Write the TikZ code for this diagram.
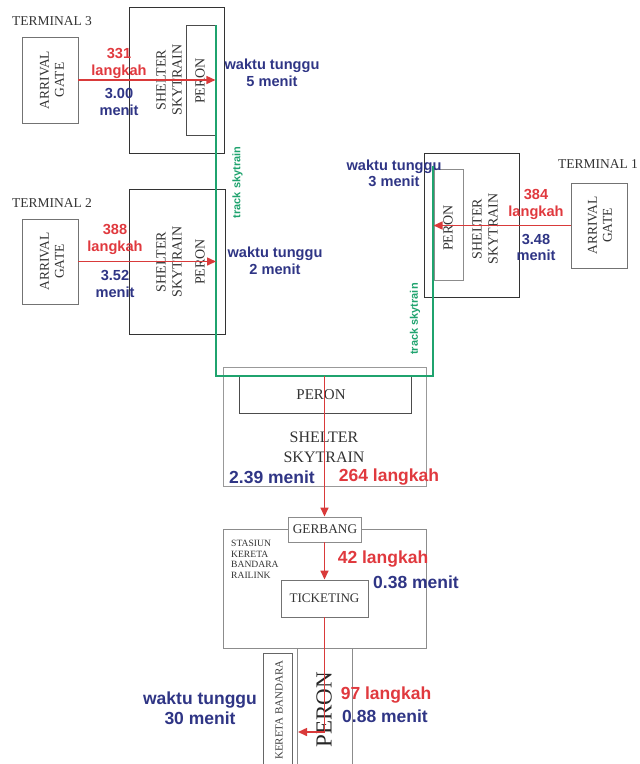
\documentclass[tikz,border=0pt]{standalone}
\usepackage{fontspec}
\setmainfont{Liberation Serif}
\setsansfont{Liberation Sans}
\usetikzlibrary{arrows.meta}
\definecolor{lred}{HTML}{E0393E}
\definecolor{lnavy}{HTML}{2F3585}
\definecolor{trk}{HTML}{1FA36E}
\definecolor{arr}{HTML}{D93A3A}
\tikzset{
  box/.style={draw=#1, line width=0.9pt, inner sep=0pt},
  box/.default=black!55,
  serif/.style={font=\fontsize{13.5}{15}\selectfont, text=black!80, inner sep=0pt, align=center},
  serifm/.style={font=\fontsize{14}{16}\selectfont, text=black!80, inner sep=0pt, align=center},
  redlab/.style={font=\sffamily\bfseries\fontsize{14.6}{16.5}\selectfont, text=lred, inner sep=0pt, align=center},
  bluelab/.style={font=\sffamily\bfseries\fontsize{14.6}{16.5}\selectfont, text=lnavy, inner sep=0pt, align=center},
  bigred/.style={font=\sffamily\bfseries\fontsize{17.5}{20}\selectfont, text=lred, inner sep=0pt, align=center},
  bigblue/.style={font=\sffamily\bfseries\fontsize{17.5}{20}\selectfont, text=lnavy, inner sep=0pt, align=center},
  flow/.style={draw=arr, line width=1.5pt, -{Triangle[length=9pt,width=8pt]}},
  track/.style={draw=trk, line width=1.6pt},
  tracklab/.style={font=\sffamily\bfseries\fontsize{11}{12}\selectfont, text=trk, rotate=90, inner sep=0pt}
}
\begin{document}
\begin{tikzpicture}[x=1pt,y=-1pt]
\useasboundingbox (0,0) rectangle (640,764);

% ---------- Terminal 3 ----------
\node[serif] (t3) at (52,21) {TERMINAL 3};
\node[box=black!55, minimum width=56pt, minimum height=86pt] (ag3) at (50,80) {};
\node[serif, rotate=90] (ag3t) at (52,80) {ARRIVAL\\GATE};
\node[box=black!80, minimum width=95pt, minimum height=146pt] (sh3) at (176.5,80) {};
\node[serifm, rotate=90] (sh3t) at (169,80) {SHELTER\\SKYTRAIN};
\node[box=black!70, minimum width=29pt, minimum height=110pt] (pr3) at (200.5,80) {};
\node[serifm, rotate=90] (pr3t) at (200,81) {PERON};
\node[redlab] (l3a) at (119,63.5) {331\\langkah};
\node[bluelab] (l3b) at (119,102) {3.00\\menit};
\node[bluelab] (w3) at (272,73) {waktu tunggu\\5 menit};

% ---------- Terminal 2 ----------
\node[serif] (t2) at (52,203) {TERMINAL 2};
\node[box=black!55, minimum width=56pt, minimum height=85pt] (ag2) at (50,261.5) {};
\node[serif, rotate=90] (ag2t) at (52,261.5) {ARRIVAL\\GATE};
\node[box=black!80, minimum width=96pt, minimum height=145pt] (sh2) at (177,261.5) {};
\node[serifm, rotate=90] (sh2t) at (169,262) {SHELTER\\SKYTRAIN};
\node[serifm, rotate=90] (pr2t) at (200,262) {PERON};
\node[redlab] (l2a) at (115,239.5) {388\\langkah};
\node[bluelab] (l2b) at (115,284) {3.52\\menit};
\node[bluelab] (w2) at (275,261) {waktu tunggu\\2 menit};

% ---------- Terminal 1 ----------
\node[serif] (t1) at (598,164) {TERMINAL 1};
\node[box=black!55, minimum width=56pt, minimum height=85pt] (ag1) at (599,225.5) {};
\node[serif, rotate=90] (ag1t) at (600,225.5) {ARRIVAL\\GATE};
\node[box=black!80, minimum width=95pt, minimum height=144pt] (sh1) at (471.5,225) {};
\node[serifm, rotate=90] (sh1t) at (485,229) {SHELTER\\SKYTRAIN};
\node[box=black!45, minimum width=29pt, minimum height=111pt] (pr1) at (448.5,224.5) {};
\node[serifm, rotate=90] (pr1t) at (448,228) {PERON};
\node[redlab] (l1a) at (536,204.5) {384\\langkah};
\node[bluelab] (l1b) at (536,247.5) {3.48\\menit};
\node[bluelab] (w1) at (394,173.5) {waktu tunggu\\3 menit};

% ---------- Central shelter ----------
\node[box=black!40, minimum width=203pt, minimum height=119pt] (cs) at (324.5,426.5) {};
\node[box=black!70, minimum width=172pt, minimum height=37pt] (pc) at (325,394.5) {};
\node[font=\fontsize{15}{17}\selectfont, text=black!80, inner sep=0pt] (pct) at (321,395) {PERON};
\node[font=\fontsize{16}{19.5}\selectfont, text=black!80, inner sep=0pt, align=center] (cst) at (324,447.5) {SHELTER\\SKYTRAIN};
\node[bigblue] (c239) at (272,477) {2.39 menit};
\node[bigred] (c264) at (389,477) {264 langkah};

% ---------- Track ----------
\coordinate (trA) at (216,25);
\coordinate (trB) at (216,376);
\coordinate (trC) at (433,376);
\coordinate (trD) at (433,166);
\draw[track] (trA) -- (trB) -- (trC) -- (trD);
\node[tracklab] (tl1) at (237.5,182.5) {track skytrain};
\node[tracklab] (tl2) at (415,319) {track skytrain};

% ---------- Stasiun ----------
\node[box=black!45, minimum width=203pt, minimum height=119pt] (st) at (324.5,588.5) {};
\node[box=black!45, fill=white, minimum width=73pt, minimum height=25pt] (gb) at (324.5,529.5) {};
\node[font=\fontsize{13.3}{15}\selectfont, text=black!80, inner sep=0pt] (gbt) at (325,529.5) {GERBANG};
\node[font=\fontsize{9.6}{10.6}\selectfont, text=black!80, inner sep=0pt, align=left, anchor=north west] (stt) at (231,540) {STASIUN\\KERETA\\BANDARA\\RAILINK};
\node[box=black!55, minimum width=87pt, minimum height=37pt] (tk) at (324.5,598.5) {};
\node[font=\fontsize{13.1}{15}\selectfont, text=black!80, inner sep=0pt] (tkt) at (324.5,598.5) {TICKETING};
\node[bigred] (l42) at (383,559) {42 langkah};
\node[bigblue] (l038) at (416,582) {0.38 menit};

% ---------- Platform ----------
\node[box=black!45, minimum width=55pt, minimum height=124pt] (pb) at (324.5,710) {};
\node[font=\fontsize{23}{25}\selectfont, text=black!85, inner sep=0pt, rotate=90] (pbt) at (324,710) {PERON};
\node[box=black!60, minimum width=29pt, minimum height=119pt] (kb) at (277.5,712.5) {};
\node[font=\fontsize{11}{12}\selectfont, text=black!75, inner sep=0pt, rotate=90] (kbt) at (279,710) {KERETA BANDARA};
\node[bigred] (l97) at (386,695) {97 langkah};
\node[bigblue] (l088) at (385,716) {0.88 menit};
\node[bigblue] (w30) at (200,708) {waktu tunggu\\30 menit};
\coordinate (kend) at (298,732);

% ---------- Flow arrows ----------
\draw[flow] (ag3.east) -- (ag3.east -| pr3.east);
\draw[flow] (ag2.east) -- (ag2.east -| trA);
\draw[flow] (ag1.west) -- (ag1.west -| pr1.west);
\draw[flow] (trB -| gb.north) -- (gb.north);
\draw[flow] (gb.south) -- (tk.north);
\draw[flow] (tk.south) |- (kend);
\end{tikzpicture}
\end{document}
